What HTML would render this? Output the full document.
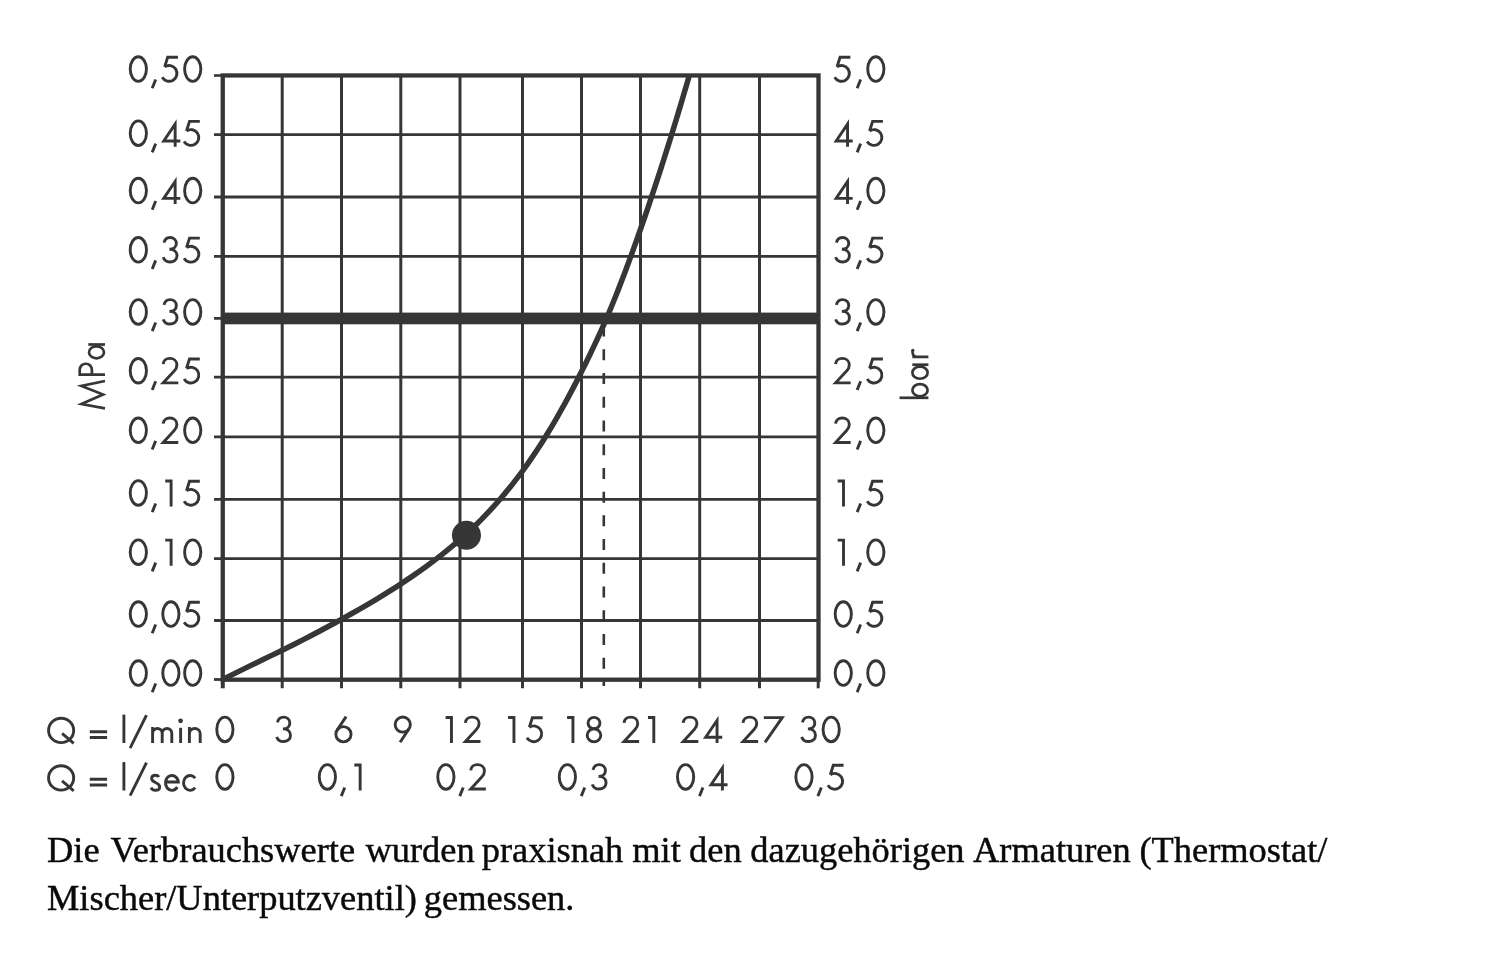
<!DOCTYPE html>
<html><head><meta charset="utf-8"><style>
html,body{margin:0;padding:0;background:#fff;width:1500px;height:956px;overflow:hidden}
svg{position:absolute;left:0;top:0;will-change:transform;filter:blur(0.6px)}
</style></head><body>
<svg width="1500" height="956" viewBox="0 0 1500 956">
<line x1="282.2" y1="75" x2="282.2" y2="688.3" stroke="#363636" stroke-width="3"/>
<line x1="341.5" y1="75" x2="341.5" y2="688.3" stroke="#363636" stroke-width="3"/>
<line x1="400.8" y1="75" x2="400.8" y2="688.3" stroke="#363636" stroke-width="3"/>
<line x1="460" y1="75" x2="460" y2="688.3" stroke="#363636" stroke-width="3"/>
<line x1="522.5" y1="75" x2="522.5" y2="688.3" stroke="#363636" stroke-width="3"/>
<line x1="581.5" y1="75" x2="581.5" y2="688.3" stroke="#363636" stroke-width="3"/>
<line x1="640.5" y1="75" x2="640.5" y2="688.3" stroke="#363636" stroke-width="3"/>
<line x1="699.7" y1="75" x2="699.7" y2="688.3" stroke="#363636" stroke-width="3"/>
<line x1="759.5" y1="75" x2="759.5" y2="688.3" stroke="#363636" stroke-width="3"/>
<line x1="214" y1="134.7" x2="818" y2="134.7" stroke="#363636" stroke-width="2.8"/>
<line x1="214" y1="197" x2="818" y2="197" stroke="#363636" stroke-width="2.8"/>
<line x1="214" y1="256.3" x2="818" y2="256.3" stroke="#363636" stroke-width="2.8"/>
<line x1="214" y1="318.4" x2="818" y2="318.4" stroke="#363636" stroke-width="2.8"/>
<line x1="214" y1="377.2" x2="818" y2="377.2" stroke="#363636" stroke-width="2.8"/>
<line x1="214" y1="436.8" x2="818" y2="436.8" stroke="#363636" stroke-width="2.8"/>
<line x1="214" y1="499.4" x2="818" y2="499.4" stroke="#363636" stroke-width="2.8"/>
<line x1="214" y1="558.6" x2="818" y2="558.6" stroke="#363636" stroke-width="2.8"/>
<line x1="214" y1="620.5" x2="818" y2="620.5" stroke="#363636" stroke-width="2.8"/>
<line x1="214" y1="75.5" x2="222" y2="75.5" stroke="#363636" stroke-width="2.6"/>
<line x1="214" y1="679.5" x2="222" y2="679.5" stroke="#363636" stroke-width="2.8"/>
<line x1="222.75" y1="680" x2="222.75" y2="688.3" stroke="#363636" stroke-width="4"/>
<line x1="818.2" y1="680" x2="818.2" y2="688.3" stroke="#363636" stroke-width="3"/>
<rect x="222.75" y="75.45" width="595.75" height="604.25" fill="none" stroke="#363636" stroke-width="4.3"/>
<rect x="222.75" y="312.6" width="595.6" height="11.7" fill="#363636"/>
<line x1="603.8" y1="325.6" x2="603.8" y2="686" stroke="#363636" stroke-width="2.6" stroke-dasharray="11 12.72"/>
<path d="M222.75,679.50 L230.80,675.39 L238.86,671.37 L246.93,667.40 L255.00,663.47 L263.08,659.56 L271.15,655.64 L279.21,651.70 L287.27,647.71 L295.31,643.67 L303.34,639.58 L311.34,635.44 L319.33,631.24 L327.28,627.00 L335.21,622.72 L343.11,618.38 L350.96,614.00 L358.78,609.57 L366.56,605.07 L374.29,600.51 L381.97,595.86 L389.60,591.14 L397.17,586.32 L404.68,581.41 L412.13,576.38 L419.51,571.25 L426.83,565.99 L434.07,560.61 L441.23,555.09 L448.31,549.43 L455.27,543.64 L462.12,537.71 L468.82,531.65 L475.36,525.47 L481.72,519.15 L487.91,512.71 L493.95,506.14 L499.84,499.46 L505.60,492.65 L511.24,485.72 L516.74,478.68 L522.10,471.53 L527.32,464.27 L532.43,456.91 L537.41,449.46 L542.27,441.92 L547.03,434.29 L551.68,426.59 L556.24,418.82 L560.70,410.98 L565.08,403.09 L569.38,395.14 L573.60,387.15 L577.75,379.12 L581.84,371.05 L585.87,362.95 L589.83,354.82 L593.72,346.67 L597.53,338.49 L601.26,330.28 L604.90,322.04 L608.45,313.79 L611.90,305.51 L615.27,297.20 L618.57,288.87 L621.79,280.52 L624.97,272.15 L628.09,263.76 L631.17,255.35 L634.22,246.92 L637.24,238.47 L640.22,230.01 L643.18,221.53 L646.11,213.03 L649.00,204.52 L651.87,195.99 L654.71,187.45 L657.53,178.90 L660.31,170.33 L663.07,161.75 L665.80,153.16 L668.51,144.56 L671.19,135.96 L673.85,127.34 L676.48,118.72 L679.09,110.08 L681.67,101.45 L684.24,92.80 L686.78,84.15 L689.30,75.50" fill="none" stroke="#363636" stroke-width="5.5" stroke-linejoin="round"/>
<circle cx="466.45" cy="535.25" r="14.5" fill="#363636"/>
<g fill="none" stroke="#363636" stroke-width="2.9" stroke-miterlimit="10">
<g transform="translate(128.75,82.60)"><ellipse cx="9.575" cy="-13.55" rx="8.125" ry="12.3"/></g><path transform="translate(149.30,82.60)" d="M6.4,-3.05 L2.9,5.65"/><g transform="translate(160.66,82.60)"><path d="M17.3,-25.3 L7,-25.3 L3.98,-15.75 M3.98,-15.75 A7.9,7.9 0 1 1 1.56,-5.25"/></g><g transform="translate(183.15,82.60)"><ellipse cx="9.575" cy="-13.55" rx="8.125" ry="12.3"/></g>
<g transform="translate(833.06,82.60)"><path d="M17.3,-25.3 L7,-25.3 L3.98,-15.75 M3.98,-15.75 A7.9,7.9 0 1 1 1.56,-5.25"/></g><path transform="translate(854.25,82.60)" d="M6.4,-3.05 L2.9,5.65"/><g transform="translate(866.25,82.60)"><ellipse cx="9.575" cy="-13.55" rx="8.125" ry="12.3"/></g>
<g transform="translate(128.75,146.70)"><ellipse cx="9.575" cy="-13.55" rx="8.125" ry="12.3"/></g><path transform="translate(149.30,146.70)" d="M6.4,-3.05 L2.9,5.65"/><g transform="translate(160.55,146.70)"><path d="M14.6,0 L14.6,-22.63 L3.19,-5.75 L19.75,-5.75"/></g><g transform="translate(182.51,146.70)"><path d="M17.3,-25.3 L7,-25.3 L3.98,-15.75 M3.98,-15.75 A7.9,7.9 0 1 1 1.56,-5.25"/></g>
<g transform="translate(832.95,146.70)"><path d="M14.6,0 L14.6,-22.63 L3.19,-5.75 L19.75,-5.75"/></g><path transform="translate(854.25,146.70)" d="M6.4,-3.05 L2.9,5.65"/><g transform="translate(865.61,146.70)"><path d="M17.3,-25.3 L7,-25.3 L3.98,-15.75 M3.98,-15.75 A7.9,7.9 0 1 1 1.56,-5.25"/></g>
<g transform="translate(128.75,204.10)"><ellipse cx="9.575" cy="-13.55" rx="8.125" ry="12.3"/></g><path transform="translate(149.30,204.10)" d="M6.4,-3.05 L2.9,5.65"/><g transform="translate(160.55,204.10)"><path d="M14.6,0 L14.6,-22.63 L3.19,-5.75 L19.75,-5.75"/></g><g transform="translate(183.15,204.10)"><ellipse cx="9.575" cy="-13.55" rx="8.125" ry="12.3"/></g>
<g transform="translate(832.95,204.10)"><path d="M14.6,0 L14.6,-22.63 L3.19,-5.75 L19.75,-5.75"/></g><path transform="translate(854.25,204.10)" d="M6.4,-3.05 L2.9,5.65"/><g transform="translate(866.25,204.10)"><ellipse cx="9.575" cy="-13.55" rx="8.125" ry="12.3"/></g>
<g transform="translate(128.75,263.40)"><ellipse cx="9.575" cy="-13.55" rx="8.125" ry="12.3"/></g><path transform="translate(149.30,263.40)" d="M6.4,-3.05 L2.9,5.65"/><g transform="translate(161.95,263.40)"><path d="M2,-20.7 C2.9,-24 5,-25.9 8,-25.9 C11.8,-25.9 14.4,-23.2 14.4,-19.8 C14.4,-16.4 11.6,-14.15 7.5,-14.15 C12,-14.15 15.05,-11.4 15.05,-7.6 C15.05,-3.8 12,-1.45 8,-1.45 C4.6,-1.45 2.1,-3.4 1.3,-6.2"/></g><g transform="translate(182.51,263.40)"><path d="M17.3,-25.3 L7,-25.3 L3.98,-15.75 M3.98,-15.75 A7.9,7.9 0 1 1 1.56,-5.25"/></g>
<g transform="translate(834.35,263.40)"><path d="M2,-20.7 C2.9,-24 5,-25.9 8,-25.9 C11.8,-25.9 14.4,-23.2 14.4,-19.8 C14.4,-16.4 11.6,-14.15 7.5,-14.15 C12,-14.15 15.05,-11.4 15.05,-7.6 C15.05,-3.8 12,-1.45 8,-1.45 C4.6,-1.45 2.1,-3.4 1.3,-6.2"/></g><path transform="translate(854.25,263.40)" d="M6.4,-3.05 L2.9,5.65"/><g transform="translate(865.61,263.40)"><path d="M17.3,-25.3 L7,-25.3 L3.98,-15.75 M3.98,-15.75 A7.9,7.9 0 1 1 1.56,-5.25"/></g>
<g transform="translate(128.75,325.50)"><ellipse cx="9.575" cy="-13.55" rx="8.125" ry="12.3"/></g><path transform="translate(149.30,325.50)" d="M6.4,-3.05 L2.9,5.65"/><g transform="translate(161.95,325.50)"><path d="M2,-20.7 C2.9,-24 5,-25.9 8,-25.9 C11.8,-25.9 14.4,-23.2 14.4,-19.8 C14.4,-16.4 11.6,-14.15 7.5,-14.15 C12,-14.15 15.05,-11.4 15.05,-7.6 C15.05,-3.8 12,-1.45 8,-1.45 C4.6,-1.45 2.1,-3.4 1.3,-6.2"/></g><g transform="translate(183.15,325.50)"><ellipse cx="9.575" cy="-13.55" rx="8.125" ry="12.3"/></g>
<g transform="translate(834.35,325.50)"><path d="M2,-20.7 C2.9,-24 5,-25.9 8,-25.9 C11.8,-25.9 14.4,-23.2 14.4,-19.8 C14.4,-16.4 11.6,-14.15 7.5,-14.15 C12,-14.15 15.05,-11.4 15.05,-7.6 C15.05,-3.8 12,-1.45 8,-1.45 C4.6,-1.45 2.1,-3.4 1.3,-6.2"/></g><path transform="translate(854.25,325.50)" d="M6.4,-3.05 L2.9,5.65"/><g transform="translate(866.25,325.50)"><ellipse cx="9.575" cy="-13.55" rx="8.125" ry="12.3"/></g>
<g transform="translate(128.75,384.30)"><ellipse cx="9.575" cy="-13.55" rx="8.125" ry="12.3"/></g><path transform="translate(149.30,384.30)" d="M6.4,-3.05 L2.9,5.65"/><g transform="translate(161.60,384.30)"><path d="M1.6,-20.2 C1.9,-23.7 4.6,-25.9 8.2,-25.9 C12.2,-25.9 15.3,-23.2 15.3,-19.4 C15.3,-16.9 14.2,-15.1 12.6,-13.4 L1.6,-1.45 L16.7,-1.45"/></g><g transform="translate(182.51,384.30)"><path d="M17.3,-25.3 L7,-25.3 L3.98,-15.75 M3.98,-15.75 A7.9,7.9 0 1 1 1.56,-5.25"/></g>
<g transform="translate(834.00,384.30)"><path d="M1.6,-20.2 C1.9,-23.7 4.6,-25.9 8.2,-25.9 C12.2,-25.9 15.3,-23.2 15.3,-19.4 C15.3,-16.9 14.2,-15.1 12.6,-13.4 L1.6,-1.45 L16.7,-1.45"/></g><path transform="translate(854.25,384.30)" d="M6.4,-3.05 L2.9,5.65"/><g transform="translate(865.61,384.30)"><path d="M17.3,-25.3 L7,-25.3 L3.98,-15.75 M3.98,-15.75 A7.9,7.9 0 1 1 1.56,-5.25"/></g>
<g transform="translate(128.75,443.90)"><ellipse cx="9.575" cy="-13.55" rx="8.125" ry="12.3"/></g><path transform="translate(149.30,443.90)" d="M6.4,-3.05 L2.9,5.65"/><g transform="translate(161.60,443.90)"><path d="M1.6,-20.2 C1.9,-23.7 4.6,-25.9 8.2,-25.9 C12.2,-25.9 15.3,-23.2 15.3,-19.4 C15.3,-16.9 14.2,-15.1 12.6,-13.4 L1.6,-1.45 L16.7,-1.45"/></g><g transform="translate(183.15,443.90)"><ellipse cx="9.575" cy="-13.55" rx="8.125" ry="12.3"/></g>
<g transform="translate(834.00,443.90)"><path d="M1.6,-20.2 C1.9,-23.7 4.6,-25.9 8.2,-25.9 C12.2,-25.9 15.3,-23.2 15.3,-19.4 C15.3,-16.9 14.2,-15.1 12.6,-13.4 L1.6,-1.45 L16.7,-1.45"/></g><path transform="translate(854.25,443.90)" d="M6.4,-3.05 L2.9,5.65"/><g transform="translate(866.25,443.90)"><ellipse cx="9.575" cy="-13.55" rx="8.125" ry="12.3"/></g>
<g transform="translate(128.75,506.50)"><ellipse cx="9.575" cy="-13.55" rx="8.125" ry="12.3"/></g><path transform="translate(149.30,506.50)" d="M6.4,-3.05 L2.9,5.65"/><g transform="translate(165.25,506.50)"><path d="M0,-25.55 L5.85,-25.55 L5.85,0"/></g><g transform="translate(182.51,506.50)"><path d="M17.3,-25.3 L7,-25.3 L3.98,-15.75 M3.98,-15.75 A7.9,7.9 0 1 1 1.56,-5.25"/></g>
<g transform="translate(837.65,506.50)"><path d="M0,-25.55 L5.85,-25.55 L5.85,0"/></g><path transform="translate(854.25,506.50)" d="M6.4,-3.05 L2.9,5.65"/><g transform="translate(865.61,506.50)"><path d="M17.3,-25.3 L7,-25.3 L3.98,-15.75 M3.98,-15.75 A7.9,7.9 0 1 1 1.56,-5.25"/></g>
<g transform="translate(128.75,565.70)"><ellipse cx="9.575" cy="-13.55" rx="8.125" ry="12.3"/></g><path transform="translate(149.30,565.70)" d="M6.4,-3.05 L2.9,5.65"/><g transform="translate(165.25,565.70)"><path d="M0,-25.55 L5.85,-25.55 L5.85,0"/></g><g transform="translate(183.15,565.70)"><ellipse cx="9.575" cy="-13.55" rx="8.125" ry="12.3"/></g>
<g transform="translate(837.65,565.70)"><path d="M0,-25.55 L5.85,-25.55 L5.85,0"/></g><path transform="translate(854.25,565.70)" d="M6.4,-3.05 L2.9,5.65"/><g transform="translate(866.25,565.70)"><ellipse cx="9.575" cy="-13.55" rx="8.125" ry="12.3"/></g>
<g transform="translate(128.75,627.60)"><ellipse cx="9.575" cy="-13.55" rx="8.125" ry="12.3"/></g><path transform="translate(149.30,627.60)" d="M6.4,-3.05 L2.9,5.65"/><g transform="translate(161.30,627.60)"><ellipse cx="9.575" cy="-13.55" rx="8.125" ry="12.3"/></g><g transform="translate(182.51,627.60)"><path d="M17.3,-25.3 L7,-25.3 L3.98,-15.75 M3.98,-15.75 A7.9,7.9 0 1 1 1.56,-5.25"/></g>
<g transform="translate(833.70,627.60)"><ellipse cx="9.575" cy="-13.55" rx="8.125" ry="12.3"/></g><path transform="translate(854.25,627.60)" d="M6.4,-3.05 L2.9,5.65"/><g transform="translate(865.61,627.60)"><path d="M17.3,-25.3 L7,-25.3 L3.98,-15.75 M3.98,-15.75 A7.9,7.9 0 1 1 1.56,-5.25"/></g>
<g transform="translate(128.75,686.60)"><ellipse cx="9.575" cy="-13.55" rx="8.125" ry="12.3"/></g><path transform="translate(149.30,686.60)" d="M6.4,-3.05 L2.9,5.65"/><g transform="translate(161.30,686.60)"><ellipse cx="9.575" cy="-13.55" rx="8.125" ry="12.3"/></g><g transform="translate(183.15,686.60)"><ellipse cx="9.575" cy="-13.55" rx="8.125" ry="12.3"/></g>
<g transform="translate(833.70,686.60)"><ellipse cx="9.575" cy="-13.55" rx="8.125" ry="12.3"/></g><path transform="translate(854.25,686.60)" d="M6.4,-3.05 L2.9,5.65"/><g transform="translate(866.25,686.60)"><ellipse cx="9.575" cy="-13.55" rx="8.125" ry="12.3"/></g>
<g transform="translate(215.32,743.00)"><ellipse cx="9.575" cy="-13.55" rx="8.125" ry="12.3"/></g>
<g transform="translate(275.42,743.00)"><path d="M2,-20.7 C2.9,-24 5,-25.9 8,-25.9 C11.8,-25.9 14.4,-23.2 14.4,-19.8 C14.4,-16.4 11.6,-14.15 7.5,-14.15 C12,-14.15 15.05,-11.4 15.05,-7.6 C15.05,-3.8 12,-1.45 8,-1.45 C4.6,-1.45 2.1,-3.4 1.3,-6.2"/></g>
<g transform="translate(334.40,743.00)"><circle cx="9.05" cy="-8.75" r="7.6"/><path d="M11.7,-26.4 L2.74,-12.96"/></g>
<g transform="translate(393.50,743.00)"><g transform="rotate(180 9.15 -13.6)"><circle cx="9.05" cy="-8.75" r="7.6"/><path d="M11.7,-26.4 L2.74,-12.96"/></g></g>
<g transform="translate(445.60,743.00)"><path d="M0,-25.55 L5.85,-25.55 L5.85,0"/></g><g transform="translate(463.80,743.00)"><path d="M1.6,-20.2 C1.9,-23.7 4.6,-25.9 8.2,-25.9 C12.2,-25.9 15.3,-23.2 15.3,-19.4 C15.3,-16.9 14.2,-15.1 12.6,-13.4 L1.6,-1.45 L16.7,-1.45"/></g>
<g transform="translate(508.10,743.00)"><path d="M0,-25.55 L5.85,-25.55 L5.85,0"/></g><g transform="translate(525.36,743.00)"><path d="M17.3,-25.3 L7,-25.3 L3.98,-15.75 M3.98,-15.75 A7.9,7.9 0 1 1 1.56,-5.25"/></g>
<g transform="translate(567.10,743.00)"><path d="M0,-25.55 L5.85,-25.55 L5.85,0"/></g><g transform="translate(585.74,743.00)"><ellipse cx="8.25" cy="-19.9" rx="5.95" ry="5.7"/><ellipse cx="8.25" cy="-7.7" rx="6.8" ry="6.5"/></g>
<g transform="translate(622.45,743.00)"><path d="M1.6,-20.2 C1.9,-23.7 4.6,-25.9 8.2,-25.9 C12.2,-25.9 15.3,-23.2 15.3,-19.4 C15.3,-16.9 14.2,-15.1 12.6,-13.4 L1.6,-1.45 L16.7,-1.45"/></g><g transform="translate(647.95,743.00)"><path d="M0,-25.55 L5.85,-25.55 L5.85,0"/></g>
<g transform="translate(681.65,743.00)"><path d="M1.6,-20.2 C1.9,-23.7 4.6,-25.9 8.2,-25.9 C12.2,-25.9 15.3,-23.2 15.3,-19.4 C15.3,-16.9 14.2,-15.1 12.6,-13.4 L1.6,-1.45 L16.7,-1.45"/></g><g transform="translate(702.45,743.00)"><path d="M14.6,0 L14.6,-22.63 L3.19,-5.75 L19.75,-5.75"/></g>
<g transform="translate(741.45,743.00)"><path d="M1.6,-20.2 C1.9,-23.7 4.6,-25.9 8.2,-25.9 C12.2,-25.9 15.3,-23.2 15.3,-19.4 C15.3,-16.9 14.2,-15.1 12.6,-13.4 L1.6,-1.45 L16.7,-1.45"/></g><g transform="translate(763.80,743.00)"><path d="M0,-25.35 L18.4,-25.35 L1.2,-0.6"/></g>
<g transform="translate(800.40,743.00)"><path d="M2,-20.7 C2.9,-24 5,-25.9 8,-25.9 C11.8,-25.9 14.4,-23.2 14.4,-19.8 C14.4,-16.4 11.6,-14.15 7.5,-14.15 C12,-14.15 15.05,-11.4 15.05,-7.6 C15.05,-3.8 12,-1.45 8,-1.45 C4.6,-1.45 2.1,-3.4 1.3,-6.2"/></g><g transform="translate(821.60,743.00)"><ellipse cx="9.575" cy="-13.55" rx="8.125" ry="12.3"/></g>
<g transform="translate(215.32,790.50)"><ellipse cx="9.575" cy="-13.55" rx="8.125" ry="12.3"/></g>
<g transform="translate(317.80,790.50)"><ellipse cx="9.575" cy="-13.55" rx="8.125" ry="12.3"/></g><path transform="translate(338.35,790.50)" d="M6.4,-3.05 L2.9,5.65"/><g transform="translate(354.30,790.50)"><path d="M0,-25.55 L5.85,-25.55 L5.85,0"/></g>
<g transform="translate(436.30,790.50)"><ellipse cx="9.575" cy="-13.55" rx="8.125" ry="12.3"/></g><path transform="translate(456.85,790.50)" d="M6.4,-3.05 L2.9,5.65"/><g transform="translate(469.15,790.50)"><path d="M1.6,-20.2 C1.9,-23.7 4.6,-25.9 8.2,-25.9 C12.2,-25.9 15.3,-23.2 15.3,-19.4 C15.3,-16.9 14.2,-15.1 12.6,-13.4 L1.6,-1.45 L16.7,-1.45"/></g>
<g transform="translate(557.80,790.50)"><ellipse cx="9.575" cy="-13.55" rx="8.125" ry="12.3"/></g><path transform="translate(578.35,790.50)" d="M6.4,-3.05 L2.9,5.65"/><g transform="translate(591.00,790.50)"><path d="M2,-20.7 C2.9,-24 5,-25.9 8,-25.9 C11.8,-25.9 14.4,-23.2 14.4,-19.8 C14.4,-16.4 11.6,-14.15 7.5,-14.15 C12,-14.15 15.05,-11.4 15.05,-7.6 C15.05,-3.8 12,-1.45 8,-1.45 C4.6,-1.45 2.1,-3.4 1.3,-6.2"/></g>
<g transform="translate(676.00,790.50)"><ellipse cx="9.575" cy="-13.55" rx="8.125" ry="12.3"/></g><path transform="translate(696.55,790.50)" d="M6.4,-3.05 L2.9,5.65"/><g transform="translate(707.80,790.50)"><path d="M14.6,0 L14.6,-22.63 L3.19,-5.75 L19.75,-5.75"/></g>
<g transform="translate(794.40,790.50)"><ellipse cx="9.575" cy="-13.55" rx="8.125" ry="12.3"/></g><path transform="translate(814.95,790.50)" d="M6.4,-3.05 L2.9,5.65"/><g transform="translate(826.31,790.50)"><path d="M17.3,-25.3 L7,-25.3 L3.98,-15.75 M3.98,-15.75 A7.9,7.9 0 1 1 1.56,-5.25"/></g>
<g transform="translate(0,0)"><ellipse cx="61.13" cy="730.42" rx="12.55" ry="12.2"/><path d="M62.07,733.33 L73.7,743.36"/><path d="M89.8,731.7 L107.1,731.7 M89.8,737.55 L107.1,737.55"/><path d="M123.9,714.6 L123.9,743"/><path d="M146.5,715.2 L130.1,748.1"/></g>
<g transform="translate(0,47.5)"><ellipse cx="61.13" cy="730.42" rx="12.55" ry="12.2"/><path d="M62.07,733.33 L73.7,743.36"/><path d="M89.8,731.7 L107.1,731.7 M89.8,737.55 L107.1,737.55"/><path d="M123.9,714.6 L123.9,743"/><path d="M146.5,715.2 L130.1,748.1"/></g>
<path d="M152.6,727 L152.6,743 M152.6,733.5 C152.6,730.5 154.8,728.45 157.4,728.45 C160,728.45 162.2,730.5 162.2,733.5 L162.2,743 M162.2,733.5 C162.2,730.5 164.4,728.45 167,728.45 C169.6,728.45 171.8,730.5 171.8,733.5 L171.8,743"/>
<path d="M180.6,727.8 L180.6,743"/><circle cx="180.6" cy="720.8" r="2.4" fill="#363636" stroke="none"/>
<path d="M189.4,727 L189.4,743 M189.4,733.8 C189.4,730.6 191.8,728.45 194.8,728.45 C197.8,728.45 200.2,730.6 200.2,733.8 L200.2,743"/>
<path d="M158.9,777.0 C158.2,775.8 157,775.25 155.4,775.25 C153.2,775.25 151.6,776.6 151.6,778.6 C151.6,780.6 153.2,781.5 155.5,782.5 C158.2,783.6 159.7,784.8 159.7,787 C159.7,789.2 158,790.3 155.5,790.3 C153.3,790.3 151.8,789.3 151,787.6"/>
<path d="M165.5,782.05 L178.35,782.0 A6.45,7.45 0 1 0 177.3,787.07"/>
<path d="M195.16,778.11 A6.6,7.45 0 1 0 195.16,787.69"/>
<g transform="translate(105,408.4) rotate(-90)" stroke-width="2.7"><path d="M0,0 L4.4,-23.6 L13.9,-1.9 L22.5,-23.6 L27.4,0"/><path d="M33.8,0 L33.8,-25.3 L38.5,-25.3 C42,-25.3 44.67,-22.6 44.67,-19.2 C44.67,-15.8 42,-13.1 38.5,-13.1 L33.8,-13.1"/><ellipse cx="56.1" cy="-8.5" rx="6.0" ry="7.5"/><path d="M63.9,0 L63.9,-16.7"/></g>
<g transform="translate(928.4,399.25) rotate(-90)" stroke-width="2.7"><path d="M1.45,0 L1.45,-28.85"/><ellipse cx="9.1" cy="-8.4" rx="6.1" ry="7.6"/><ellipse cx="26.6" cy="-8.4" rx="6.1" ry="7.6"/><path d="M34.55,0 L34.55,-16.1"/><path d="M42.41,0 L42.41,-16.1 M42.41,-12.5 C43,-15 45.5,-15.9 48.6,-15.9"/><circle cx="49" cy="-15.6" r="1.6" fill="#363636" stroke="none"/></g>
</g>
<text y="861.8" font-family="Liberation Serif, serif" font-size="36.4" fill="#0a0a0a" stroke="#0a0a0a" stroke-width="0.45"><tspan x="47.0">Die</tspan><tspan x="110.57">Verbrauchswerte</tspan><tspan x="365.48">wurden</tspan><tspan x="481.81">praxisnah</tspan><tspan x="632.27">mit</tspan><tspan x="689.1">den</tspan><tspan x="750.34">dazugehörigen</tspan><tspan x="973.04">Armaturen</tspan><tspan x="1139.46">(Thermostat/</tspan></text>
<text y="909.8" font-family="Liberation Serif, serif" font-size="36.4" fill="#0a0a0a" stroke="#0a0a0a" stroke-width="0.45"><tspan x="47.0">Mischer/Unterputzventil)</tspan><tspan x="423.85">gemessen.</tspan></text>
</svg>
</body></html>
